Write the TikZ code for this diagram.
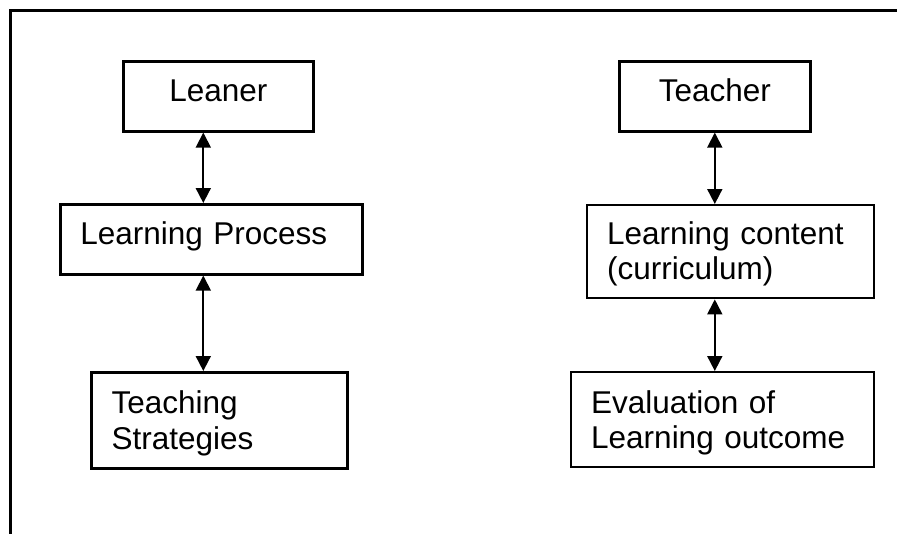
\documentclass[tikz,border=0pt]{standalone}
\usepackage{fontspec}
\setmainfont{Liberation Sans}
\usetikzlibrary{arrows.meta}
\tikzset{
  box/.style={draw, line width=2.6pt, anchor=north west, inner xsep=20pt, inner ysep=0pt,
    text height=40pt, align=left, font=\fontsize{31.5}{35.5}\selectfont},
  link/.style={line width=1.8pt, {Triangle[length=15pt,width=15pt]}-{Triangle[length=15pt,width=15pt]}}
}
\begin{document}
\begin{tikzpicture}[x=1pt,y=-1pt]
            \useasboundingbox (0,0) rectangle (897,533);
            \draw[line width=3pt] (10,540) -- (10,10) -- (900,10);
            \node[box, align=center, text width=150pt, text depth=30pt] (leaner) at (122,60) {Leaner};
            \node[box, text width=262pt, text depth=30pt] (lp) at (59,203) {Learning Process};
            \node[box, line width=3.2pt, text width=216pt, text depth=55pt, text height=41pt] (ts) at (90,371) {Teaching\\Strategies};
            \node[box, align=center, text width=151pt, text depth=30pt] (teacher) at (618,60) {Teacher};
            \node[box, line width=2.4pt, text width=247pt, text depth=54pt, text height=39pt] (lc) at (586,204) {Learning content\\(curriculum)};
            \node[box, line width=2.4pt, text width=263pt, text depth=54pt, text height=41pt] (eval) at (570,371) {Evaluation of\\Learning outcome};
            \draw[link] ([xshift=-15pt]leaner.south) -- ([xshift=-15pt]leaner.south |- lp.north);
            \draw[link] ([xshift=-15pt]leaner.south |- lp.south) -- ([xshift=-15pt]leaner.south |- ts.north);
            \draw[link] (teacher.south) -- (teacher.south |- lc.north);
            \draw[link] (teacher.south |- lc.south) -- (teacher.south |- eval.north);
\end{tikzpicture}
\end{document}
